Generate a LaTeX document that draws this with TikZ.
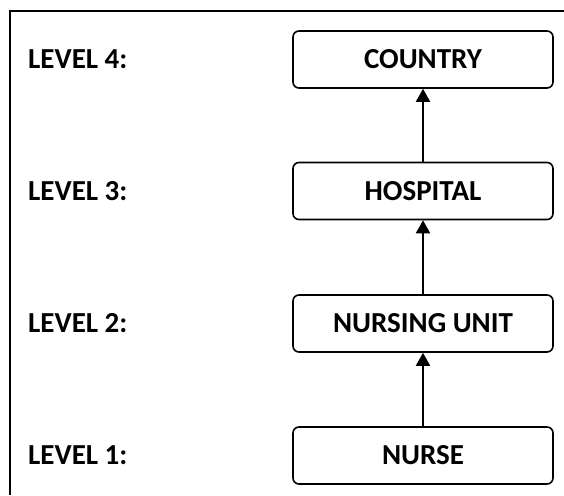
\documentclass[tikz,border=0pt]{standalone}
\usepackage{fontspec}
\setmainfont{Carlito}
\usetikzlibrary{arrows.meta}
\begin{document}
\begin{tikzpicture}[x=1pt,y=-1pt,
  levelbox/.style={draw=black,line width=1.6pt,rounded corners=6pt,minimum width=260pt,minimum height=57pt,inner sep=0pt,font=\fontsize{29}{33}\selectfont\bfseries},
  levellabel/.style={anchor=west,inner sep=0pt,font=\fontsize{29}{33}\selectfont\bfseries},
  uparrow/.style={line width=2pt,-{Triangle[width=14pt,length=13pt]}}]
\useasboundingbox (0,0) rectangle (564,495);
\draw[line width=1.5pt] (564,11) -- (10,11) -- (10,495);
\node[levelbox] (country) at (423,59.5) {COUNTRY};
\node[levelbox] (hospital) at (423,191) {HOSPITAL};
\node[levelbox] (unit) at (423,323.5) {NURSING UNIT};
\node[levelbox] (nurse) at (423,455.5) {NURSE};
\node[levellabel] (l4) at (28,59.5) {LEVEL 4:};
\node[levellabel] (l3) at (28,191) {LEVEL 3:};
\node[levellabel] (l2) at (28,323.5) {LEVEL 2:};
\node[levellabel] (l1) at (28,455.5) {LEVEL 1:};
\draw[uparrow] (nurse.north) -- (unit.south);
\draw[uparrow] (unit.north) -- (hospital.south);
\draw[uparrow] (hospital.north) -- (country.south);
\end{tikzpicture}
\end{document}
